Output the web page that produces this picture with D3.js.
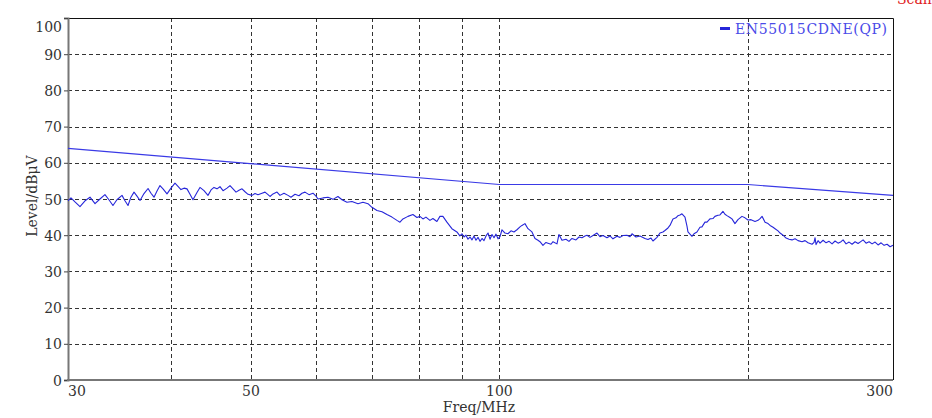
<!DOCTYPE html>
<html>
<head>
<meta charset="utf-8">
<script src="https://d3js.org/d3.v7.min.js"></script>
<style>
    body { margin: 0; background: #fff; }
    .tick-label { font-family: "DejaVu Serif", serif; font-size: 14px; fill: #333; }
    .grid-line { stroke: #333; stroke-width: 1; stroke-dasharray: 4,3; shape-rendering: crispEdges; }
</style>
</head>
<body>
<div id="graphHolder"></div>
<script>
'use strict'
// limit line EN55015 CDNE (QP)
var limitFreq = [30, 100, 200, 300];
var limitLevel = [64, 54, 54, 51];

var traceFreq = [
    30.00, 30.25, 30.59, 31.02, 31.46, 31.90, 32.35, 32.80, 33.26, 33.63, 34.01, 34.39, 34.88, 35.17, 35.47,
    35.76, 36.07, 36.37, 36.68, 37.09, 37.51, 37.82, 38.14, 38.46, 38.78, 39.11, 39.55, 39.99, 40.44, 40.78,
    41.12, 41.47, 41.82, 42.17, 42.52, 43.00, 43.36, 43.85, 44.34, 44.72, 45.09, 45.47, 45.85, 46.24, 46.76,
    47.15, 47.55, 47.95, 48.35, 48.76, 49.17, 49.58, 50.14, 50.56, 50.98, 51.56, 51.99, 52.43, 52.72, 53.16,
    53.76, 54.21, 54.82, 55.44, 55.90, 56.53, 57.16, 57.64, 58.13, 58.78, 59.44, 59.94, 60.28, 61.12, 61.98,
    62.85, 63.73, 64.45, 65.35, 66.27, 67.39, 68.34, 69.30, 70.07, 71.06, 72.06, 73.07, 74.09, 75.14, 75.77,
    76.40, 77.48, 78.56, 79.45, 80.11, 80.79, 81.47, 82.38, 83.07, 84.00, 84.71, 85.42, 86.38, 87.59, 88.82,
    89.57, 90.07, 90.60, 91.10, 91.61, 92.13, 92.64, 93.16, 93.68, 94.21, 94.74, 95.27, 95.80, 96.34, 96.88,
    97.42, 97.96, 98.51, 99.06, 99.62, 100.18, 100.73, 101.58, 102.43, 103.29, 104.16, 105.03, 105.92, 106.51,
    107.40, 108.31, 109.52, 110.45, 111.38, 112.00, 112.94, 113.89, 114.53, 115.49, 116.14, 117.44, 118.10,
    119.09, 120.43, 121.44, 122.46, 123.84, 124.88, 125.93, 126.99, 127.70, 128.78, 129.86, 131.32, 132.42,
    133.53, 135.03, 136.16, 137.31, 138.85, 140.02, 141.20, 142.78, 143.98, 144.79, 146.41, 148.05, 150.13,
    151.40, 152.67, 153.52, 155.25, 156.55, 157.87, 158.75, 160.09, 160.98, 162.34, 163.70, 164.62, 165.54,
    166.47, 167.87, 168.81, 169.28, 171.18, 172.14, 173.58, 175.04, 176.02, 177.50, 178.49, 179.98, 181.50,
    182.51, 184.05, 185.08, 186.64, 187.68, 188.74, 190.33, 191.39, 193.00, 194.63, 196.81, 198.47, 200.13,
    201.85, 204.13, 205.84, 207.00, 208.16, 209.91, 211.68, 212.86, 214.65, 215.85, 217.66, 218.88, 220.72,
    222.58, 224.45, 226.33, 228.24, 230.16, 232.74, 234.70, 236.67, 239.33, 240.67, 241.34, 242.02, 243.38,
    244.74, 246.80, 248.88, 250.97, 253.08, 255.21, 257.36, 259.52, 260.98, 263.18, 265.39, 267.62, 269.87,
    272.14, 274.43, 275.96, 278.29, 280.63, 282.99, 285.37, 287.77, 290.19, 292.63, 295.09, 297.57, 300.00
];
var traceLevel = [
    49.5, 50.3, 49.2, 47.9, 49.5, 50.5, 48.7, 50.0, 51.2, 49.8, 48.2, 49.8, 51.0, 49.5, 48.2,
    50.5, 51.9, 50.8, 49.6, 51.5, 52.9, 51.6, 50.5, 52.2, 53.7, 52.8, 51.4, 53.0, 54.4, 53.5,
    52.6, 53.0, 52.8, 51.3, 49.8, 51.8, 53.2, 52.3, 51.0, 52.5, 53.2, 52.8, 53.4, 52.3, 53.0,
    53.7, 52.8, 51.9, 52.4, 52.8, 52.0, 51.3, 51.0, 51.5, 51.2, 51.6, 51.9, 51.2, 50.7, 51.4,
    51.9, 51.0, 51.6, 51.0, 50.5, 51.3, 50.9, 51.6, 51.9, 51.2, 51.6, 50.8, 50.0, 50.3, 50.5,
    49.9, 50.7, 49.8, 49.1, 49.3, 48.7, 49.1, 48.7, 47.7, 46.8, 46.5, 45.7, 45.0, 44.1, 43.6,
    44.5, 45.2, 45.7, 44.9, 45.2, 44.5, 45.0, 44.1, 44.6, 43.8, 45.2, 45.2, 43.6, 41.8, 40.9,
    39.8, 40.4, 39.5, 40.0, 38.9, 39.5, 38.7, 39.8, 38.6, 39.4, 38.3, 39.1, 38.5, 39.8, 40.6,
    38.9, 40.2, 39.3, 40.3, 39.0, 39.6, 41.5, 40.6, 40.4, 41.2, 40.9, 41.5, 42.3, 42.7,
    43.2, 41.8, 40.9, 39.1, 38.6, 38.2, 37.2, 38.0, 37.8, 37.5, 38.2, 37.6, 40.2,
    38.6, 38.9, 38.3, 39.1, 38.7, 39.5, 39.3, 39.8, 40.0, 39.4, 39.9, 40.6, 39.6,
    39.9, 39.3, 39.8, 39.0, 39.7, 39.4, 39.9, 40.0, 39.6, 40.4, 39.5, 39.8, 39.1,
    38.8, 39.2, 38.4, 39.4, 40.6, 40.9, 41.3, 42.0, 42.7, 44.5, 44.8, 45.4, 45.6,
    45.9, 45.0, 42.5, 40.9, 39.7, 40.4, 40.9, 42.2, 42.3, 43.6, 43.6, 44.5, 44.6,
    45.2, 45.5, 45.6, 46.6, 45.8, 45.4, 44.9, 44.5, 43.2, 44.3, 45.2, 44.8, 44.2,
    44.3, 43.8, 44.1, 44.6, 45.2, 43.6, 43.2, 42.7, 42.2, 41.8, 41.2, 40.6, 40.0,
    39.2, 38.9, 38.7, 39.0, 38.5, 38.2, 38.5, 37.9, 37.5, 38.0, 39.3, 37.4, 38.5,
    37.8, 38.6, 37.9, 38.3, 37.6, 38.4, 37.8, 38.2, 38.7, 37.6, 38.1, 37.5, 38.2,
    37.7, 38.3, 38.7, 37.8, 38.2, 37.6, 38.1, 37.3, 37.9, 37.2, 37.5, 36.8, 37.2
];

var yTicks = [0, 10, 20, 30, 40, 50, 60, 70, 80, 90, 100];
var xGrid = [40, 50, 60, 70, 80, 90, 100, 200];
var xLabels = [30, 50, 100, 300];

var legendText = "EN55015CDNE(QP)";

function emcChart() {
    var _chart = {};
    var _width = 932, _height = 418;
    var _margins = {top: 18, left: 68, right: 39, bottom: 38};
    var _svg, _xScale, _yScale;

    _chart.render = function () {
        _svg = d3.select("div#graphHolder").append("svg")
                .attr("width", _width)
                .attr("height", _height);

        _xScale = d3.scaleLog().domain([30, 300]).range([xStart(), xEnd()]);
        _yScale = d3.scaleLinear().domain([0, 100]).range([yStart(), yEnd()]);

        renderGrid();
        renderAxes();
        renderLines();
        renderLabels();
    };

    function renderGrid() {
        var g = _svg.append("g").attr("class", "grid");

        g.selectAll("line.h")
                .data(yTicks.filter(function (d) { return d > 0 && d < 100; }))
                .enter().append("line")
                .attr("class", "grid-line h")
                .attr("x1", xStart()).attr("x2", xEnd())
                .attr("y1", function (d) { return Math.round(_yScale(d)) + 0.5; })
                .attr("y2", function (d) { return Math.round(_yScale(d)) + 0.5; });

        g.selectAll("line.v")
                .data(xGrid)
                .enter().append("line")
                .attr("class", "grid-line v")
                .attr("y1", yEnd()).attr("y2", yStart())
                .attr("x1", function (d) { return Math.round(_xScale(d)) + 0.5; })
                .attr("x2", function (d) { return Math.round(_xScale(d)) + 0.5; });
    }

    function renderAxes() {
        // top and right frame
        _svg.append("path")
                .attr("d", "M" + xStart() + "," + (yEnd() + 0.5) + "H" + (xEnd() + 0.5) + "V" + yStart())
                .attr("fill", "none")
                .attr("stroke", "#111")
                .attr("stroke-width", 1);

        var yAxis = d3.axisLeft(_yScale)
                .tickValues(yTicks)
                .tickSize(4)
                .tickFormat(function (d) { return d; });
        var yG = _svg.append("g")
                .attr("class", "y axis")
                .attr("transform", "translate(" + xStart() + ",0)")
                .call(yAxis);
        yG.select(".domain").attr("stroke", "#777").attr("stroke-width", 2);
        yG.selectAll(".tick line").attr("stroke", "#444");
        yG.selectAll(".tick text")
                .attr("class", "tick-label")
                .attr("x", -6)
                .attr("dy", function (d) { return d === 100 ? "0.95em" : "0.36em"; })
                .style("font-family", null).style("font-size", null);
        yG.attr("font-family", null).attr("font-size", null);

        _svg.append("line")
                .attr("x1", xStart() - 1).attr("x2", xEnd())
                .attr("y1", yStart()).attr("y2", yStart())
                .attr("stroke", "#777")
                .attr("stroke-width", 2);
    }

    function renderLines() {
        var line = d3.line()
                .x(function (d) { return _xScale(d[0]); })
                .y(function (d) { return _yScale(d[1]); });

        var limit = limitFreq.map(function (f, i) { return [f, limitLevel[i]]; });
        var trace = traceFreq.map(function (f, i) { return [f, traceLevel[i]]; });

        _svg.append("path")
                .attr("class", "line limit")
                .attr("d", line(limit))
                .attr("fill", "none")
                .attr("stroke", "#3a3ae6")
                .attr("stroke-width", 1.2);

        _svg.append("path")
                .attr("class", "line trace")
                .attr("d", line(trace))
                .attr("fill", "none")
                .attr("stroke", "#2626d9")
                .attr("stroke-width", 1.1)
                .attr("stroke-linejoin", "round");
    }

    function renderLabels() {
        _svg.selectAll("text.x-label")
                .data(xLabels)
                .enter().append("text")
                .attr("class", "tick-label x-label")
                .attr("x", function (d) { return _xScale(d); })
                .attr("y", yStart() + 16)
                .attr("text-anchor", function (d, i) {
                    return i === 0 ? "start" : (i === xLabels.length - 1 ? "end" : "middle");
                })
                .text(function (d) { return d; });

        _svg.append("text")
                .attr("class", "tick-label")
                .attr("x", 479)
                .attr("y", yStart() + 32)
                .attr("text-anchor", "middle")
                .text("Freq/MHz");

        _svg.append("text")
                .attr("class", "tick-label")
                .attr("transform", "translate(37," + 196 + ") rotate(-90)")
                .attr("text-anchor", "middle")
                .text("Level/dBμV");

        // legend
        var lg = _svg.append("g").attr("class", "legend");
        lg.append("line")
                .attr("x1", 720).attr("x2", 730)
                .attr("y1", 28.5).attr("y2", 28.5)
                .attr("stroke", "#2626d9")
                .attr("stroke-width", 3);
        lg.append("text")
                .attr("x", 735).attr("y", 34)
                .attr("textLength", 152)
                .style("font-family", "'DejaVu Serif', serif")
                .style("font-size", "14px")
                .style("fill", "#4a4ae8")
                .text(legendText);

        _svg.append("text")
                .attr("x", 897).attr("y", 4)
                .style("font-family", "'DejaVu Serif', serif")
                .style("font-size", "14px")
                .style("fill", "#e02020")
                .text("Scan");
    }

    function xStart() { return _margins.left; }
    function xEnd() { return _width - _margins.right; }
    function yStart() { return _height - _margins.bottom; }
    function yEnd() { return _margins.top; }

    return _chart;
}

var chart = emcChart();
chart.render();
</script>
</body>
</html>
